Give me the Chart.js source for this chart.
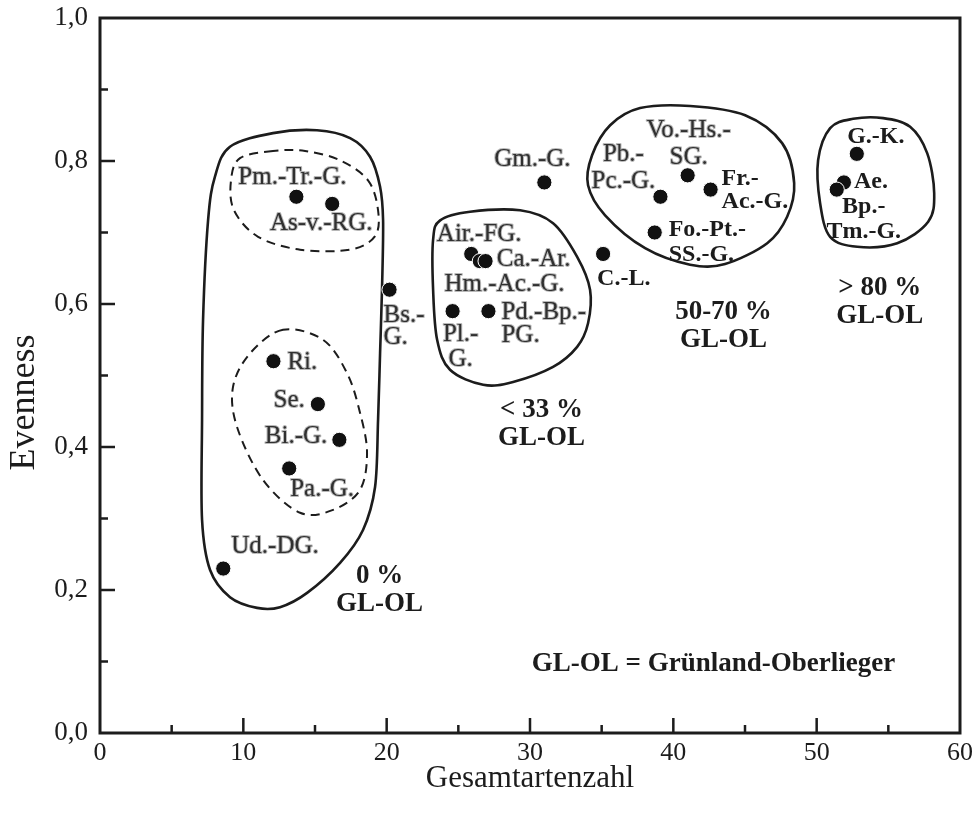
<!DOCTYPE html>
<html>
<head>
<meta charset="utf-8">
<script src="https://cdn.jsdelivr.net/npm/chart.js@4.4.1/dist/chart.umd.min.js"></script>
<style>
  html, body { margin: 0; padding: 0; background: #fff; }
  #wrap { width: 976px; height: 814px; }
</style>
</head>
<body>
<div id="wrap"><canvas id="chart" width="976" height="814"></canvas></div>
<script>
// ── Data ───────────────────────────────────────────────
const siteNames = [
  'Pm.-Tr.-G.', 'As-v.-RG.', 'Ri.', 'Se.', 'Bi.-G.', 'Pa.-G.', 'Ud.-DG.',
  'Bs.-\nG.', 'Air.-FG.', 'Ca.-Ar.', 'Hm.-Ac.-G.', 'Pl.-\nG.', 'Pd.-Bp.-\nPG.',
  'Gm.-G.', 'C.-L.', 'Pb.-\nPc.-G.', 'Vo.-Hs.-\nSG.', 'Fr.-\nAc.-G.', 'Fo.-Pt.-\nSS.-G.',
  'G.-K.', 'Ae.', 'Bp.-\nTm.-G.'
];
const speciesCount = [13.7, 16.2, 12.1, 15.2, 16.7, 13.2, 8.6,
  20.2, 25.9, 26.5, 26.9, 24.6, 27.1,
  31.0, 35.1, 39.1, 41.0, 42.6, 38.7,
  52.8, 51.9, 51.4];
const evenness = [0.75, 0.74, 0.52, 0.46, 0.41, 0.37, 0.23,
  0.62, 0.67, 0.66, 0.66, 0.59, 0.59,
  0.77, 0.67, 0.75, 0.78, 0.76, 0.70,
  0.81, 0.77, 0.76];

// group captions (share of Grünland-Oberlieger)
const groupText = [['0 %', 'GL-OL'], ['< 33 %', 'GL-OL'], ['50-70 %', 'GL-OL'], ['> 80 %', 'GL-OL'], ['GL-OL = Grünland-Oberlieger']];
const groupX = [19.5, 30.8, 43.5, 54.4, 42.8];
const groupY = [0.200, 0.432, 0.569, 0.603, 0.097];

// hand-drawn group outlines, in data units
const hullZero = [[12.07,0.839],[9.07,0.820],[8.02,0.778],[7.54,0.717],[7.19,0.578],[7.12,0.438],[7.12,0.298],[7.68,0.228],[9.07,0.190],[10.96,0.175],[12.56,0.176],[14.45,0.196],[16.75,0.238],[18.35,0.284],[19.19,0.344],[19.40,0.438],[19.54,0.531],[19.68,0.624],[19.75,0.717],[19.54,0.764],[18.84,0.806],[17.45,0.832],[15.14,0.843]];
const hullZeroTop = [[12.07,0.814],[9.77,0.804],[9.14,0.773],[9.35,0.731],[11.03,0.694],[13.96,0.676],[17.45,0.676],[19.19,0.695],[19.40,0.731],[18.70,0.773],[16.75,0.801],[14.31,0.814]];
const hullZeroLow = [[12.77,0.564],[10.47,0.531],[9.28,0.484],[9.56,0.428],[11.37,0.354],[13.96,0.308],[16.26,0.312],[18.14,0.340],[18.63,0.392],[18.14,0.448],[17.24,0.503],[15.56,0.550]];
const hull33 = [[23.73,0.717],[25.82,0.729],[29.31,0.731],[31.61,0.713],[33.29,0.666],[34.19,0.620],[34.05,0.573],[33.29,0.540],[31.61,0.512],[28.82,0.491],[26.73,0.487],[24.42,0.508],[23.52,0.550],[23.24,0.620],[23.24,0.690]];
const hull5070 = [[41.17,0.877],[37.68,0.874],[35.59,0.850],[34.33,0.808],[34.05,0.766],[35.24,0.724],[38.03,0.678],[41.17,0.655],[43.61,0.656],[46.55,0.685],[47.94,0.722],[48.43,0.769],[47.59,0.825],[45.01,0.864]];
const hull80 = [[52.55,0.859],[50.94,0.846],[50.10,0.801],[50.24,0.741],[50.94,0.694],[52.83,0.680],[55.62,0.685],[57.78,0.715],[58.20,0.755],[57.71,0.811],[56.52,0.848],[54.64,0.860]];

// ── Label placement (pixel offsets from the dot) ───────
const labelLayout = [
  { dx: -4, dy: -19, align: 'center' }, { dx: -11, dy: 20, align: 'center' },
  { dx: 14, dy: 1, align: 'left' }, { dx: -13, dy: -4, align: 'right' },
  { dx: -12, dy: -3, align: 'right' }, { dx: 1, dy: 21, align: 'left' },
  { dx: 8, dy: -22, align: 'left' },
  { dx: -6, dy: 26, align: 'left', gap: 22 }, { dx: 8, dy: -20, align: 'center' },
  { dx: 17, dy: -2, align: 'left' }, { dx: 19, dy: 23, align: 'center' },
  { dx: 8, dy: 23, align: 'center', gap: 25 }, { dx: 13, dy: 1, align: 'left', gap: 23 },
  { dx: -12, dy: -23, align: 'center' }, { dx: -6, dy: 25, align: 'left', bold: true },
  { dx: -37, dy: -42, align: 'center', gap: 27 }, { dx: 1, dy: -45, align: 'center', gap: 27 },
  { dx: 11, dy: -11, align: 'left', gap: 23, bold: true }, { dx: 14, dy: -3, align: 'left', gap: 25, bold: true },
  { dx: 19, dy: -17, align: 'center', bold: true }, { dx: 10, dy: -1, align: 'left', bold: true },
  { dx: 27, dy: 17, align: 'center', gap: 25, bold: true }
];

const FONT = '"Liberation Serif", "Times New Roman", serif';
const INK = '#1c1c1c';

function closedSpline(ctx, pts) {
  const n = pts.length;
  ctx.beginPath();
  ctx.moveTo(pts[0][0], pts[0][1]);
  for (let i = 0; i < n; i++) {
    const p0 = pts[(i - 1 + n) % n], p1 = pts[i], p2 = pts[(i + 1) % n], p3 = pts[(i + 2) % n];
    ctx.bezierCurveTo(
      p1[0] + (p2[0] - p0[0]) / 6, p1[1] + (p2[1] - p0[1]) / 6,
      p2[0] - (p3[0] - p1[0]) / 6, p2[1] - (p3[1] - p1[1]) / 6,
      p2[0], p2[1]);
  }
  ctx.closePath();
}

// frame, inward ticks and outlines
const backdropPlugin = {
  id: 'backdrop',
  beforeDatasetsDraw(chart) {
    const { ctx, chartArea: a, scales: { x, y } } = chart;
    ctx.save();
    ctx.strokeStyle = INK;
    ctx.lineWidth = 3;
    ctx.strokeRect(a.left, a.top, a.right - a.left, a.bottom - a.top);
    ctx.lineWidth = 2.5;
    ctx.beginPath();
    for (let v = 5; v < 60; v += 5) {
      const px = x.getPixelForValue(v);
      ctx.moveTo(px, a.bottom);
      ctx.lineTo(px, a.bottom - (v % 10 === 0 ? 15 : 8));
    }
    for (let i = 1; i < 10; i++) {
      const py = y.getPixelForValue(i / 10);
      ctx.moveTo(a.left, py);
      ctx.lineTo(a.left + (i % 2 === 0 ? 15 : 8), py);
    }
    ctx.stroke();

    const toPx = hull => hull.map(p => [x.getPixelForValue(p[0]), y.getPixelForValue(p[1])]);
    ctx.lineJoin = 'round';
    [hullZero, hull33, hull5070, hull80].forEach(h => {
      closedSpline(ctx, toPx(h));
      ctx.lineWidth = 2.6;
      ctx.stroke();
    });
    ctx.setLineDash([9, 6]);
    [hullZeroTop, hullZeroLow].forEach(h => {
      closedSpline(ctx, toPx(h));
      ctx.lineWidth = 2;
      ctx.stroke();
    });
    ctx.restore();
  },
  afterDatasetsDraw(chart) {
    const { ctx, scales: { x, y } } = chart;
    ctx.save();
    ctx.textBaseline = 'middle';
    ctx.lineJoin = 'round';
    siteNames.forEach((name, i) => {
      const L = labelLayout[i];
      const px = x.getPixelForValue(speciesCount[i]) + L.dx;
      const py = y.getPixelForValue(evenness[i]) + L.dy;
      ctx.font = L.bold ? 'bold 24px ' + FONT : '25px ' + FONT;
      ctx.textAlign = L.align;
      name.split('\n').forEach((line, j) => {
        const ly = py + j * (L.gap || 24);
        if (!L.bold) {
          ctx.lineWidth = 2;
          ctx.strokeStyle = '#b8b8b8';
          ctx.strokeText(line, px, ly);
          ctx.fillStyle = '#303030';
        } else {
          ctx.fillStyle = INK;
        }
        ctx.fillText(line, px, ly);
      });
    });
    ctx.font = 'bold 27px ' + FONT;
    ctx.textAlign = 'center';
    ctx.fillStyle = INK;
    groupText.forEach((lines, i) => {
      const cx = x.getPixelForValue(groupX[i]);
      const cy = y.getPixelForValue(groupY[i]);
      lines.forEach((line, j) => {
        ctx.fillText(line, cx, cy + (j - (lines.length - 1) / 2) * 28);
      });
    });
    ctx.restore();
  }
};

new Chart(document.getElementById('chart'), {
  type: 'scatter',
  data: {
    datasets: [{
      data: speciesCount.map((v, i) => ({ x: v, y: evenness[i] })),
      pointRadius: 7.6,
      pointBackgroundColor: '#111',
      pointBorderColor: '#fff',
      pointBorderWidth: 1
    }]
  },
  options: {
    responsive: false,
    animation: false,
    devicePixelRatio: 1,
    layout: { padding: { top: 18, right: 16, left: 0, bottom: 0 } },
    plugins: { legend: { display: false }, tooltip: { enabled: false } },
    scales: {
      x: {
        type: 'linear', min: 0, max: 60,
        grid: { display: false, drawTicks: false },
        border: { display: false },
        ticks: { stepSize: 10, padding: 5, color: INK, font: { family: FONT, size: 26 } },
        title: { display: true, text: 'Gesamtartenzahl', color: INK, font: { family: FONT, size: 31 }, padding: { top: 0, bottom: 17 } },
        afterFit: s => { s.height = 81; s.paddingLeft = 0; s.paddingRight = 0; }
      },
      y: {
        type: 'linear', min: 0, max: 1,
        grid: { display: false, drawTicks: false },
        border: { display: false },
        ticks: {
          stepSize: 0.2, padding: 12, color: INK, font: { family: FONT, size: 27 },
          callback: v => v.toFixed(1).replace('.', ',')
        },
        // trailing spaces nudge the rotated title down to where the original sits
        title: { display: true, text: 'Evenness      ', color: INK, font: { family: FONT, size: 36 }, padding: { top: 3, bottom: 0 } },
        afterFit: s => { s.width = 100; s.paddingTop = 0; s.paddingBottom = 0; }
      }
    }
  },
  plugins: [backdropPlugin]
});
</script>
</body>
</html>
